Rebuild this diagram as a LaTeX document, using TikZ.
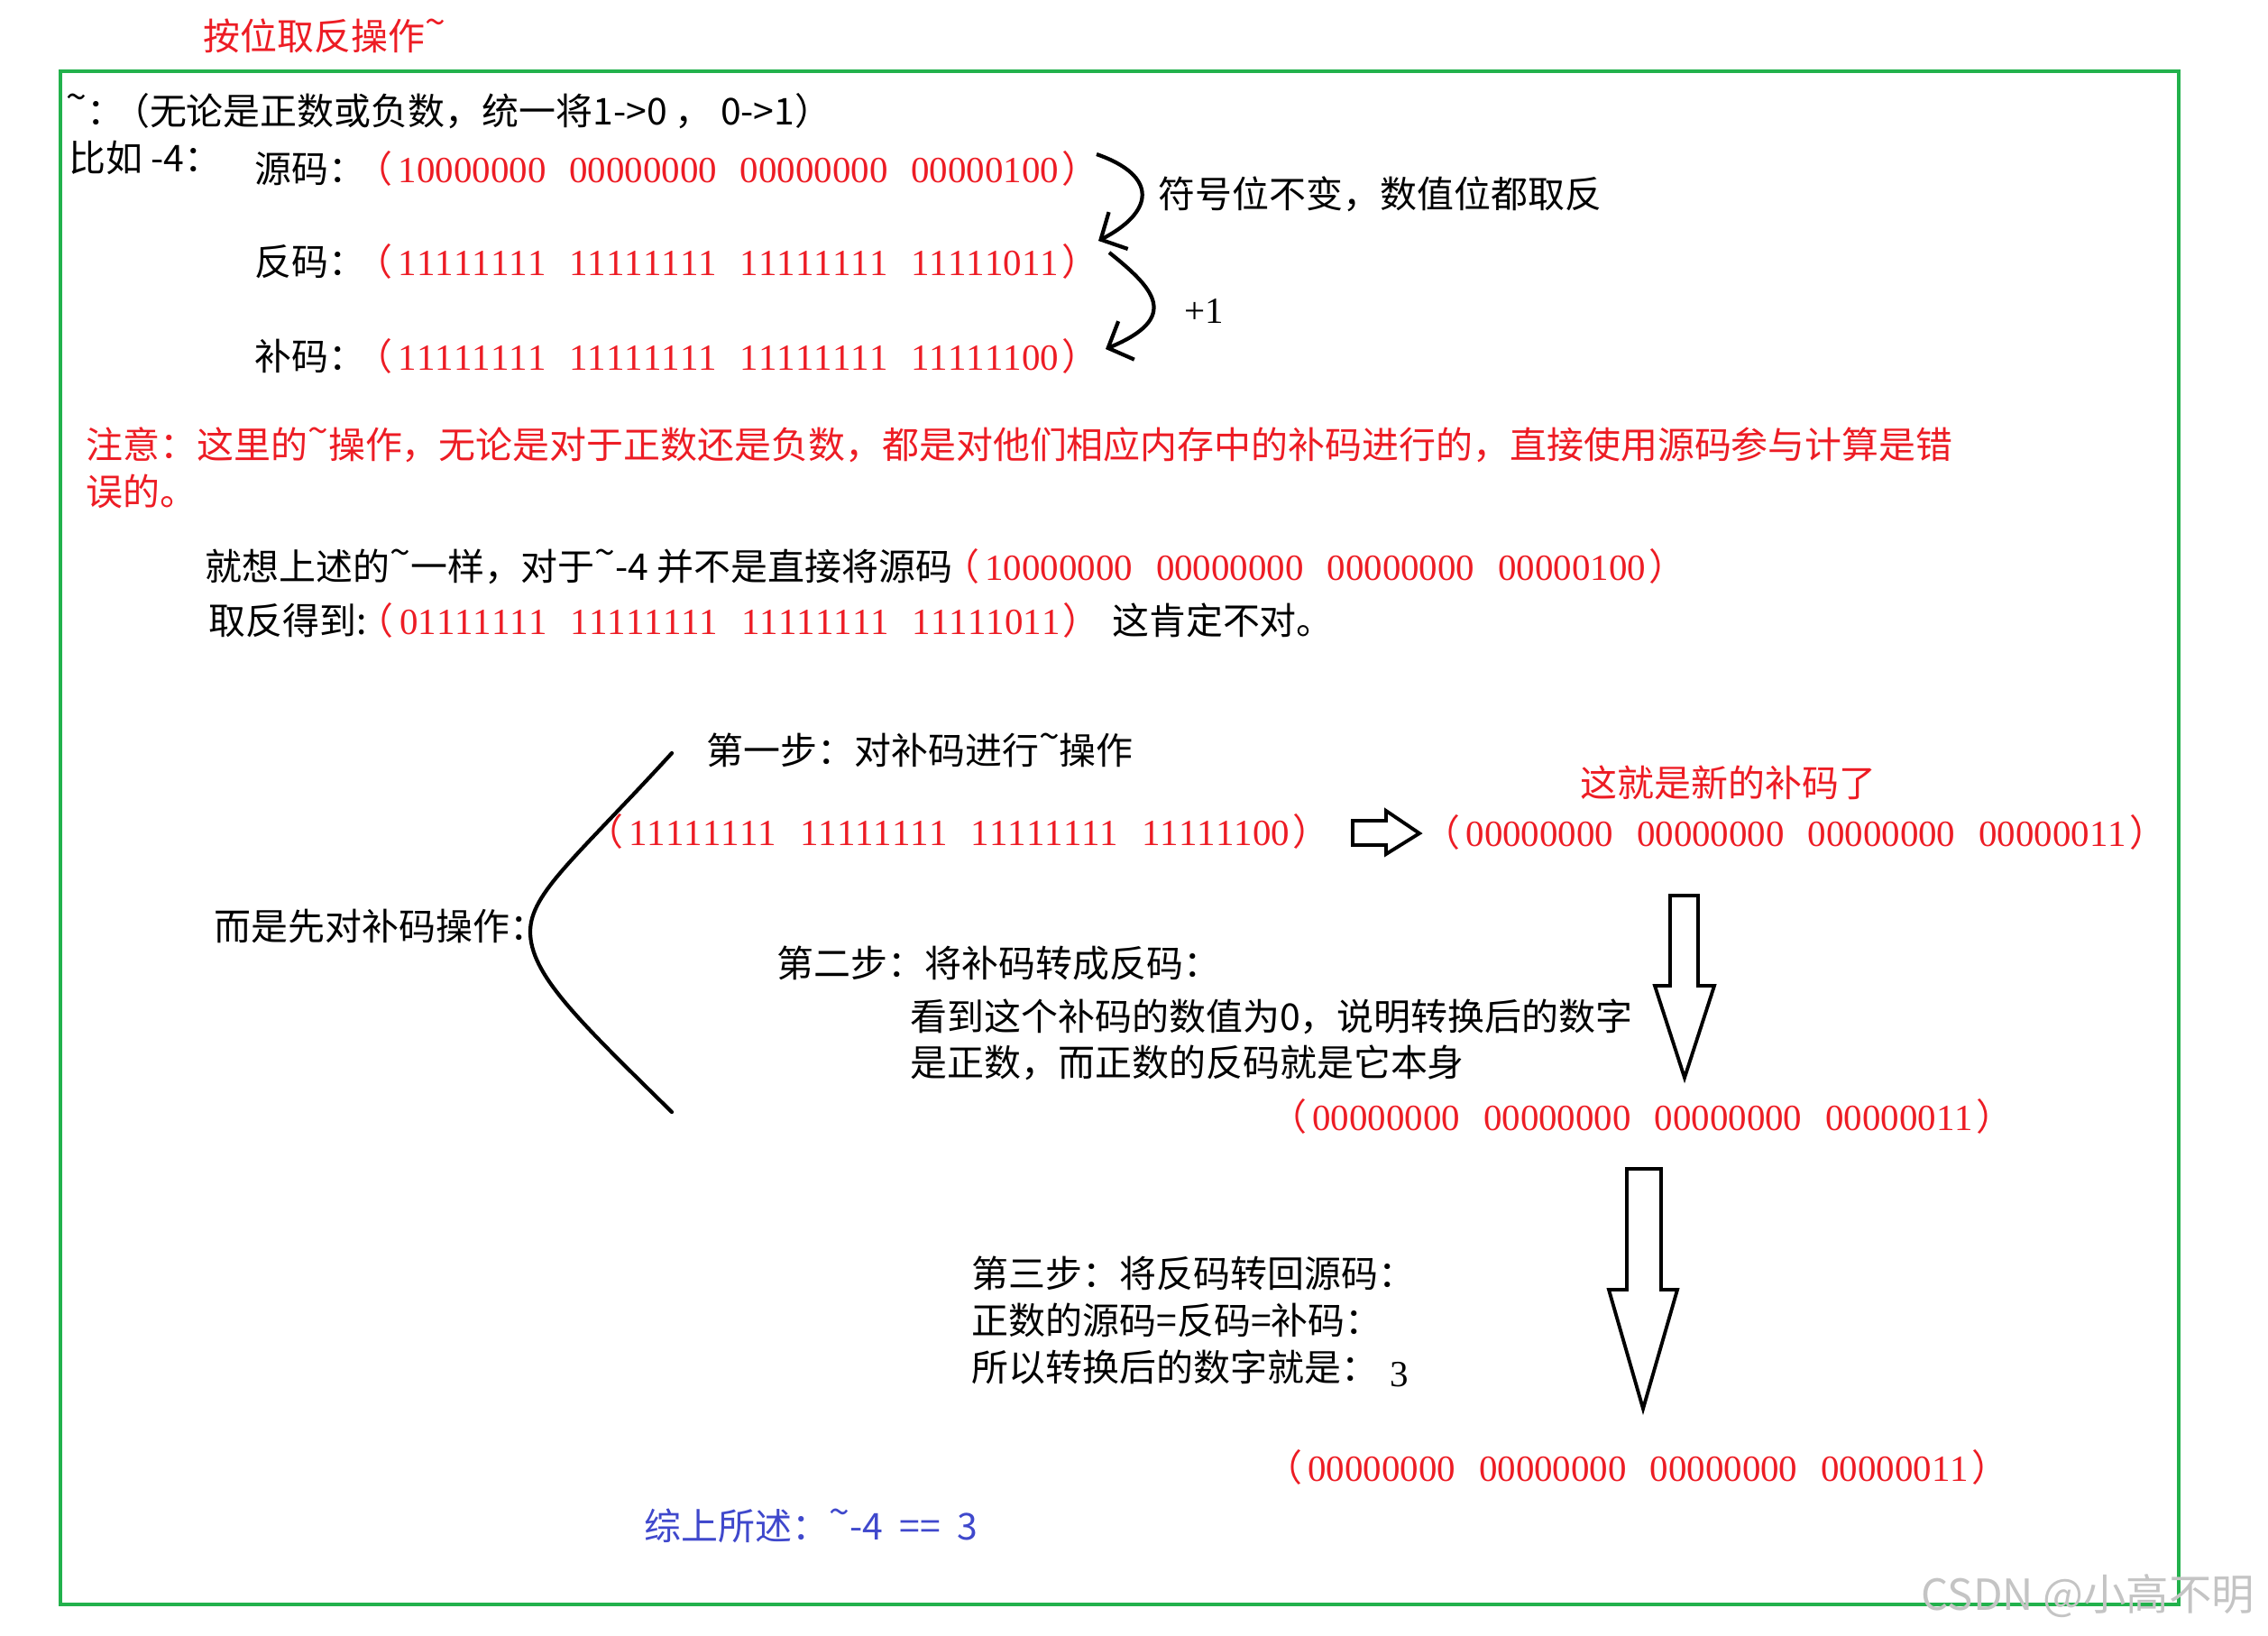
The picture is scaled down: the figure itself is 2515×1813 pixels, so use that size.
\documentclass[tikz,border=0pt]{standalone}
\usepackage{fontspec}
\setmainfont{Noto Sans CJK SC}
\newfontfamily\bitfont{Liberation Serif}[Kerning=Off]
\usetikzlibrary{arrows.meta, positioning}
\definecolor{noteRed}{HTML}{ED1C24}
\definecolor{frameGreen}{HTML}{22B14C}
\definecolor{sumBlue}{HTML}{3F48CC}
\definecolor{markGray}{HTML}{C4C4C4}
\newcommand{\bnot}{\raisebox{0.4em}{\textasciitilde}}
\newcommand{\lpar}{\kern-0.3em（}
\newcommand{\binrow}[4]{\lpar\kern0.15em{\bitfont #1\hspace{0.63em}#2\hspace{0.63em}#3\hspace{0.63em}#4}\kern0.08em）}
\tikzset{
  txt/.style={inner sep=0pt, anchor=west, text height=10.3pt, text depth=1.5pt,
              font=\fontsize{11.65}{14}\selectfont},
  redtxt/.style={txt, text=noteRed},
  bluetxt/.style={txt, text=sumBlue},
  frameline/.style={draw=frameGreen, line width=1.3pt},
  curvy/.style={-{Straight Barb[length=2.2mm, width=4.6mm]}, line width=1.2pt},
  bracket/.style={line width=1.2pt, line cap=round},
  hollow/.style={draw, fill=white, line width=1.1pt, line join=miter},
}

\begin{document}
\begin{tikzpicture}[x=0.1mm, y=-0.1mm]
    \fill[white] (0,0) rectangle (2515,1813);
    \useasboundingbox (0,0) rectangle (2515,1813);

    \node[redtxt] (title) at (225,40) {按位取反操作\bnot};
    \draw[frameline] (67,79) rectangle (2416,1779);

    \node[txt] (rule) at (73,123) {\bnot：\lpar 无论是正数或负数，统一将1->0 ， 0->1）};
    \node[txt] (eg) at (76,175) {比如 -4：};
    \node[txt] (yuan) at (282,187) {源码：};
    \node[redtxt, right=0pt of yuan] (yuanbits) {\binrow{10000000}{00000000}{00000000}{00000100}};
    \node[txt] (fan) at (282,290) {反码：};
    \node[redtxt, right=0pt of fan] (fanbits) {\binrow{11111111}{11111111}{11111111}{11111011}};
    \node[txt] (bu) at (282,395) {补码：};
    \node[redtxt, right=0pt of bu] (bubits) {\binrow{11111111}{11111111}{11111111}{11111100}};

    \coordinate (flipS) at (1216,171);
    \coordinate (flipE) at (1218,267);
    \coordinate (plusS) at (1230,280);
    \coordinate (plusE) at (1226,387);
    \draw[curvy] (flipS) .. controls (1285,195) and (1280,235) .. (flipE);
    \draw[curvy] (plusS) .. controls (1280,320) and (1310,352) .. (plusE);
    \node[txt] (flipnote) at (1284,215) {符号位不变，数值位都取反};
    \node[txt, font=\fontsize{11.65}{14}\selectfont\bitfont] (plusone) at (1313,343) {+1};

    \node[redtxt] (note1) at (95,493)
      {注意：这里的\bnot 操作，无论是对于正数还是负数，都是对他们相应内存中的补码进行的，直接使用源码参与计算是错};
    \node[redtxt] (note2) at (95,545) {误的。};

    \node[txt] (like) at (227,628) {就想上述的\bnot 一样，对于\bnot -4 并不是直接将源码};
    \node[redtxt, right=0pt of like] (likebits) {\binrow{10000000}{00000000}{00000000}{00000100}};
    \node[txt] (neg) at (231,688) {取反得到:};
    \node[redtxt, right=0pt of neg] (negbits) {\binrow{01111111}{11111111}{11111111}{11111011}};
    \node[txt, right=1.2mm of negbits] (wrong) {这肯定不对。};

    \node[txt] (first) at (237,1027) {而是先对补码操作：};
    \draw[bracket] (745,835) .. controls (640,950) and (588,990) .. (588,1033)
      .. controls (588,1080) and (640,1130) .. (745,1233);

    \node[txt] (step1) at (783,832) {第一步：对补码进行\bnot 操作};
    \node[redtxt] (s1bits) at (662,922) {\binrow{11111111}{11111111}{11111111}{11111100}};
    \draw[hollow] (1500,910) -- (1537,910) -- (1537,899) -- (1574,924) -- (1537,947)
      -- (1537,937) -- (1500,937) -- cycle;
    \node[redtxt] (newbu) at (1752,868) {这就是新的补码了};
    \node[redtxt] (newbits) at (1590,923) {\binrow{00000000}{00000000}{00000000}{00000011}};

    \draw[hollow] (1852,993) -- (1883,993) -- (1883,1093) -- (1901,1093) -- (1868,1195)
      -- (1835,1093) -- (1852,1093) -- cycle;
    \node[txt] (step2) at (861,1068) {第二步：将补码转成反码：};
    \node[txt] (why1) at (1009,1127) {看到这个补码的数值为0，说明转换后的数字};
    \node[txt] (why2) at (1009,1178) {是正数，而正数的反码就是它本身};
    \node[redtxt] (fanbits2) at (1420,1238) {\binrow{00000000}{00000000}{00000000}{00000011}};

    \draw[hollow] (1804,1296) -- (1842,1296) -- (1842,1430) -- (1860,1430) -- (1822,1562)
      -- (1784,1430) -- (1804,1430) -- cycle;
    \node[txt] (step3) at (1077,1412) {第三步：将反码转回源码：};
    \node[txt] (step3b) at (1077,1464) {正数的源码=反码=补码：};
    \node[txt] (step3c) at (1077,1516) {所以转换后的数字就是：};
    \node[txt, font=\fontsize{11.65}{14}\selectfont\bitfont] (three) at (1541,1522) {3};
    \node[redtxt] (yuanbits2) at (1415,1627) {\binrow{00000000}{00000000}{00000000}{00000011}};

    \node[bluetxt] (sum) at (714,1692) {综上所述：\bnot -4\hspace{0.45em}==\hspace{0.45em}3};
    \node[txt, text=markGray, font=\fontsize{13.5}{16}\selectfont] (mark) at (2130,1770) {CSDN @小高不明};
  \end{tikzpicture}
\end{document}
